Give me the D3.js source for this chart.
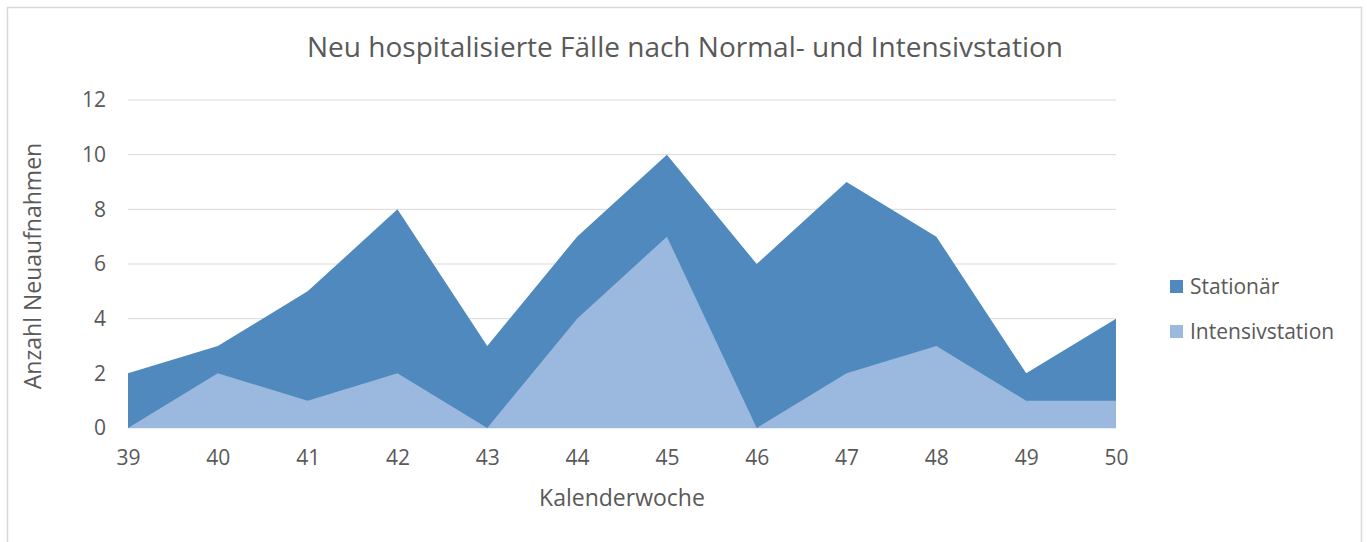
<!DOCTYPE html>
<html lang="de">
<head>
<meta charset="UTF-8">
<title>Neu hospitalisierte Fälle</title>
<script src="https://d3js.org/d3.v7.min.js"></script>
<style>
  body { margin: 0; background: #fff; }
  text { font-family: "Open Sans", sans-serif; fill: #595959; }
</style>
</head>
<body>
<div id="my_dataviz"></div>
<script>
// data
var weeks = [39, 40, 41, 42, 43, 44, 45, 46, 47, 48, 49, 50];
var stationaer = [2, 3, 5, 8, 3, 7, 10, 6, 9, 7, 2, 4];
var intensiv = [0, 2, 1, 2, 0, 4, 7, 0, 2, 3, 1, 1];
var yTicks = [0, 2, 4, 6, 8, 10, 12];

var W = 1367, H = 542;
var margin = {top: 100, right: 251, bottom: 114, left: 128},
    width = W - margin.left - margin.right,
    height = H - margin.top - margin.bottom;

var svg = d3.select("#my_dataviz")
  .append("svg")
    .attr("width", W)
    .attr("height", H);

// chart border
svg.append("rect")
  .attr("x", 7.5).attr("y", 7.5)
  .attr("width", 1354).attr("height", 560)
  .attr("fill", "none")
  .attr("stroke", "#d9d9d9")
  .attr("stroke-width", 1.5);

var g = svg.append("g")
  .attr("transform", "translate(" + margin.left + "," + margin.top + ")");

var x = d3.scaleLinear()
  .domain([39, 50])
  .range([0, width]);

var y = d3.scaleLinear()
  .domain([0, 12])
  .range([height, 0]);

// gridlines
g.selectAll("grid")
  .data(yTicks)
  .enter()
  .append("line")
    .attr("x1", 0)
    .attr("x2", width)
    .attr("y1", function(d) { return y(d); })
    .attr("y2", function(d) { return y(d); })
    .attr("stroke", "#d9d9d9")
    .attr("stroke-width", 1);

// areas
var areaFor = function(vals) {
  return d3.area()
    .x(function(d, i) { return x(weeks[i]); })
    .y0(y(0))
    .y1(function(d) { return y(d); })(vals);
};

g.append("path")
  .attr("d", areaFor(stationaer))
  .attr("fill", "#4f89bd");

g.append("path")
  .attr("d", areaFor(intensiv))
  .attr("fill", "#9bb9df");

// axes
var yAxis = g.append("g")
  .call(d3.axisLeft(y).tickValues(yTicks).tickSize(0).tickPadding(22));
yAxis.select(".domain").remove();
yAxis.selectAll("text")
  .style("font-size", "21px")
  .attr("fill", "#595959");

var xAxis = g.append("g")
  .attr("transform", "translate(0," + height + ")")
  .call(d3.axisBottom(x).tickValues(weeks).tickFormat(d3.format("d")).tickSize(0).tickPadding(22));
xAxis.select(".domain").remove();
xAxis.selectAll("text")
  .style("font-size", "21px")
  .attr("fill", "#595959");

// title
svg.append("text")
  .attr("x", 685)
  .attr("y", 57)
  .attr("text-anchor", "middle")
  .style("font-size", "28px")
  .text("Neu hospitalisierte Fälle nach Normal- und Intensivstation");

// axis titles
svg.append("text")
  .attr("x", 622)
  .attr("y", 506)
  .attr("text-anchor", "middle")
  .style("font-size", "23px")
  .text("Kalenderwoche");

svg.append("text")
  .attr("transform", "translate(41,266)rotate(-90)")
  .attr("text-anchor", "middle")
  .style("font-size", "23px")
  .text("Anzahl Neuaufnahmen");

// legend
var legend = [
  {name: "Stationär", color: "#4f89bd"},
  {name: "Intensivstation", color: "#9bb9df"}
];
var lg = svg.selectAll("legend")
  .data(legend)
  .enter()
  .append("g")
    .attr("transform", function(d, i) { return "translate(1170," + (280 + i * 45) + ")"; });
lg.append("rect")
  .attr("width", 13).attr("height", 13)
  .attr("fill", function(d) { return d.color; });
lg.append("text")
  .attr("x", 20)
  .attr("y", 14)
  .style("font-size", "21px")
  .text(function(d) { return d.name; });
</script>
</body>
</html>
